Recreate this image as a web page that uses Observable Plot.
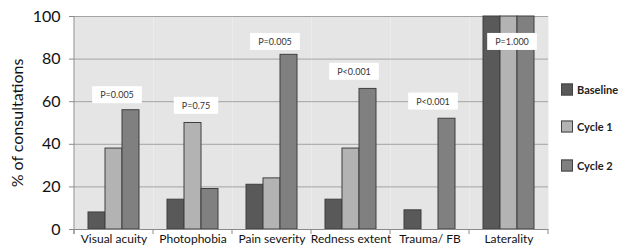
<!DOCTYPE html>
<html>
<head>
<meta charset="utf-8">
<script src="https://cdn.jsdelivr.net/npm/d3@7"></script>
<script src="https://cdn.jsdelivr.net/npm/@observablehq/plot@0.6"></script>
<style>
  html, body { margin: 0; padding: 0; background: #fff; }
  #wrap { position: relative; width: 619px; height: 247px; font-family: Lato, "Open Sans", sans-serif; }
  .legend { position: absolute; left: 561px; top: 0; font-family: Lato, sans-serif; font-weight: bold; font-size: 11px; color: #222; }
  .legend .item { position: absolute; left: 0; display: flex; align-items: center; white-space: nowrap; transform: translateY(-50%); }
  .legend .sw { width: 10px; height: 10px; border: 1px solid #444; margin-right: 4px; }
</style>
</head>
<body>
<div id="wrap"></div>
<script>
const categories = ["Visual acuity", "Photophobia", "Pain severity", "Redness extent", "Trauma/ FB", "Laterality"];
const seriesNames = ["Baseline", "Cycle 1", "Cycle 2"];
const baseline = [8, 14, 21, 14, 9, 100];
const cycle1 = [38, 50, 24, 38, 0, 100];
const cycle2 = [56, 19, 82, 66, 52, 100];
const pLabels = ["P=0.005", "P=0.75", "P=0.005", "P<0.001", "P<0.001", "P=1.000"];
const pLabelY = [63, 58, 88, 74, 60, 88];
const yTicks = [0, 20, 40, 60, 80, 100];
const seriesColors = ["#595959", "#b3b3b3", "#808080"];

const seriesValues = [baseline, cycle1, cycle2];
const rows = [];
categories.forEach((c, i) => {
  seriesNames.forEach((s, j) => {
    const v = seriesValues[j][i];
    if (v > 0) rows.push({category: c, series: s, value: v});
  });
});
const pRows = categories.map((c, i) => ({category: c, label: pLabels[i], y: pLabelY[i]}));

const chart = Plot.plot({
  width: 619,
  height: 247,
  marginLeft: 72,
  marginRight: 69,
  marginTop: 16,
  marginBottom: 18,
  style: {fontFamily: "Lato, 'Open Sans', sans-serif", background: "transparent"},
  fx: {domain: categories, padding: 0, label: null},
  x: {domain: seriesNames, paddingInner: 0, paddingOuter: 0.72, axis: null},
  y: {domain: [0, 100], label: null},
  color: {domain: seriesNames, range: seriesColors},
  marks: [
    Plot.frame({fill: "#e5e5e5", stroke: null}),
    Plot.ruleY(yTicks.filter(d => d > 0), {stroke: "#a3a3a3", strokeWidth: 1}),
    Plot.barY(rows, {fx: "category", x: "series", y: "value", fill: "series", stroke: "#3f3f3f", strokeWidth: 1}),
    Plot.ruleY([0], {stroke: "#8a8a8a"}),
    Plot.axisY({ticks: yTicks, tickSize: 5, tickPadding: 9, fontSize: 16, stroke: "#8a8a8a", fill: "#111",
      label: "% of consultations", labelAnchor: "center", labelOffset: 63}),
    Plot.axisFx({tickSize: 0, tickPadding: 5, fontSize: 12, fill: "#111", label: null, anchor: "bottom"}),
    Plot.text(pRows, {fx: "category", y: "y", text: "label", fontSize: 9, fill: "#333", dx: 3})
  ]
});

const wrap = document.getElementById("wrap");
wrap.appendChild(chart);

const svg = d3.select(chart);

// remove the arrow Plot adds to the y label
svg.selectAll("text").each(function () {
  if (this.textContent.includes("consultations")) {
    d3.select(this).text("% of consultations").attr("font-size", 16);
  }
});

// white boxes behind the P-value labels
svg.selectAll("text").filter(function () {
  return pLabels.includes(this.textContent);
}).each(function () {
  const b = this.getBBox();
  const r = document.createElementNS("http://www.w3.org/2000/svg", "rect");
  r.setAttribute("x", b.x - 8);
  r.setAttribute("y", b.y - 3);
  r.setAttribute("width", b.width + 16);
  r.setAttribute("height", b.height + 6);
  r.setAttribute("fill", "white");
  const t = this.getAttribute("transform");
  if (t) r.setAttribute("transform", t);
  this.parentNode.insertBefore(r, this);
});

// left axis line and category boundary ticks, from the plot's own scales
const fx = chart.scale("fx");
const ys = chart.scale("y");
const y0 = ys.apply(0), y100 = ys.apply(100);
const left = fx.apply(categories[0]);
const deco = svg.append("g").attr("stroke", "#8a8a8a").attr("stroke-width", 1);
deco.append("line").attr("x1", left).attr("x2", left).attr("y1", y0 + 5).attr("y2", y100);
const edges = categories.map(c => fx.apply(c)).concat([fx.apply(categories[categories.length - 1]) + fx.bandwidth]);
edges.forEach(e => deco.append("line").attr("x1", e).attr("x2", e).attr("y1", y0).attr("y2", y0 + 5));

// legend
const legend = document.createElement("div");
legend.className = "legend";
const legendY = [89, 126, 165];
seriesNames.forEach((s, i) => {
  const item = document.createElement("div");
  item.className = "item";
  item.style.top = legendY[i] + "px";
  const sw = document.createElement("div");
  sw.className = "sw";
  sw.style.background = seriesColors[i];
  const tx = document.createElement("span");
  tx.textContent = s;
  item.appendChild(sw);
  item.appendChild(tx);
  legend.appendChild(item);
});
wrap.appendChild(legend);
</script>
</body>
</html>
